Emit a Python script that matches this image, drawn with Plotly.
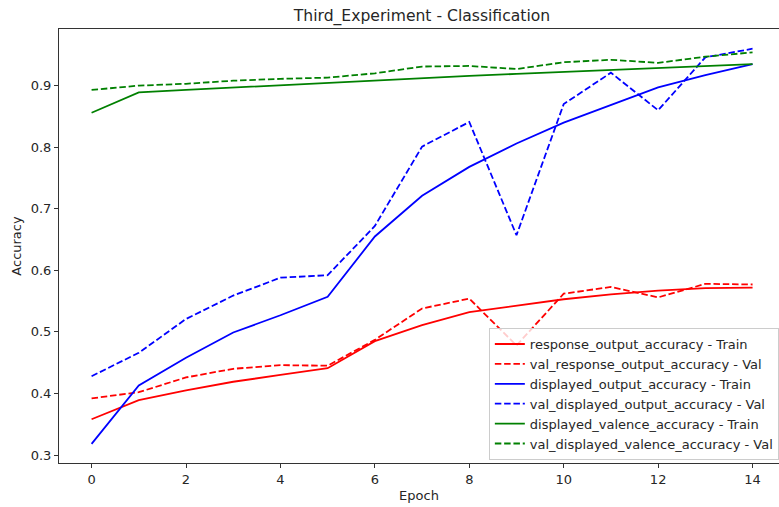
import plotly.graph_objects as go

epochs = list(range(15))

response_train = [0.358, 0.389, 0.405, 0.419, 0.430, 0.441, 0.485, 0.511, 0.532, 0.542, 0.553, 0.561, 0.567, 0.571, 0.572]
response_val = [0.392, 0.402, 0.426, 0.440, 0.446, 0.445, 0.487, 0.538, 0.554, 0.478, 0.562, 0.573, 0.556, 0.578, 0.577]
displayed_train = [0.318, 0.413, 0.458, 0.499, 0.527, 0.557, 0.655, 0.721, 0.768, 0.806, 0.840, 0.869, 0.897, 0.917, 0.935]
displayed_val = [0.428, 0.466, 0.521, 0.559, 0.588, 0.592, 0.672, 0.801, 0.841, 0.657, 0.870, 0.921, 0.860, 0.946, 0.960]
valence_train = [0.856, 0.889, 0.893, 0.897, 0.901, 0.904, 0.909, 0.913, 0.916, 0.919, 0.922, 0.926, 0.929, 0.932, 0.935]
valence_val = [0.893, 0.900, 0.903, 0.908, 0.911, 0.913, 0.920, 0.931, 0.932, 0.927, 0.938, 0.942, 0.937, 0.947, 0.954]

series = [
    ("response_output_accuracy - Train", response_train, "#ff0000", "solid"),
    ("val_response_output_accuracy - Val", response_val, "#ff0000", "6.5px,2.8px"),
    ("displayed_output_accuracy - Train", displayed_train, "#0000ff", "solid"),
    ("val_displayed_output_accuracy - Val", displayed_val, "#0000ff", "6.5px,2.8px"),
    ("displayed_valence_accuracy - Train", valence_train, "#008000", "solid"),
    ("val_displayed_valence_accuracy - Val", valence_val, "#008000", "6.5px,2.8px"),
]

FONT = "DejaVu Sans"
TXT = "#262626"
FS = 13

fig = go.Figure()
for name, vals, color, dash in series:
    fig.add_trace(go.Scatter(
        x=epochs, y=vals, mode="lines", name=name,
        line=dict(color=color, width=1.8, dash=dash),
    ))

fig.update_layout(
    width=779, height=507,
    margin=dict(l=59, r=0, t=29, b=44),
    paper_bgcolor="white", plot_bgcolor="white",
    font=dict(family=FONT, size=FS, color=TXT),
    title=dict(text="Third_Experiment - Classification", x=422 / 779, xref="container",
               xanchor="center", y=1 - 16 / 507, yref="container", yanchor="middle",
               font=dict(family=FONT, size=15.6, color=TXT)),
    showlegend=True,
    legend=dict(
        x=0.597, y=0.311, xanchor="left", yanchor="top",
        bgcolor="rgba(255,255,255,0.8)", bordercolor="#cccccc", borderwidth=1,
        font=dict(family=FONT, size=FS, color=TXT),
        tracegroupgap=0, itemwidth=30,
    ),
    xaxis=dict(
        title=dict(text="Epoch", font=dict(family=FONT, size=FS, color=TXT), standoff=5),
        range=[-0.69, 14.56], tickmode="array", tickvals=list(range(0, 15, 2)),
        showgrid=False, zeroline=False,
        showline=True, linecolor="#333333", linewidth=1, mirror=True,
        ticks="outside", ticklen=4, tickcolor="#333333", tickwidth=1,
        tickfont=dict(family=FONT, size=FS, color=TXT),
    ),
    yaxis=dict(
        title=dict(text="Accuracy", font=dict(family=FONT, size=FS, color=TXT), standoff=6),
        range=[0.287, 0.992], tickmode="array",
        tickvals=[0.3, 0.4, 0.5, 0.6, 0.7, 0.8, 0.9],
        ticktext=["0.3", "0.4", "0.5", "0.6", "0.7", "0.8", "0.9"],
        showgrid=False, zeroline=False,
        showline=True, linecolor="#333333", linewidth=1, mirror=False,
        ticks="outside", ticklen=4, tickcolor="#333333", tickwidth=1,
        tickfont=dict(family=FONT, size=FS, color=TXT),
    ),
)

fig.write_html("out.html")
